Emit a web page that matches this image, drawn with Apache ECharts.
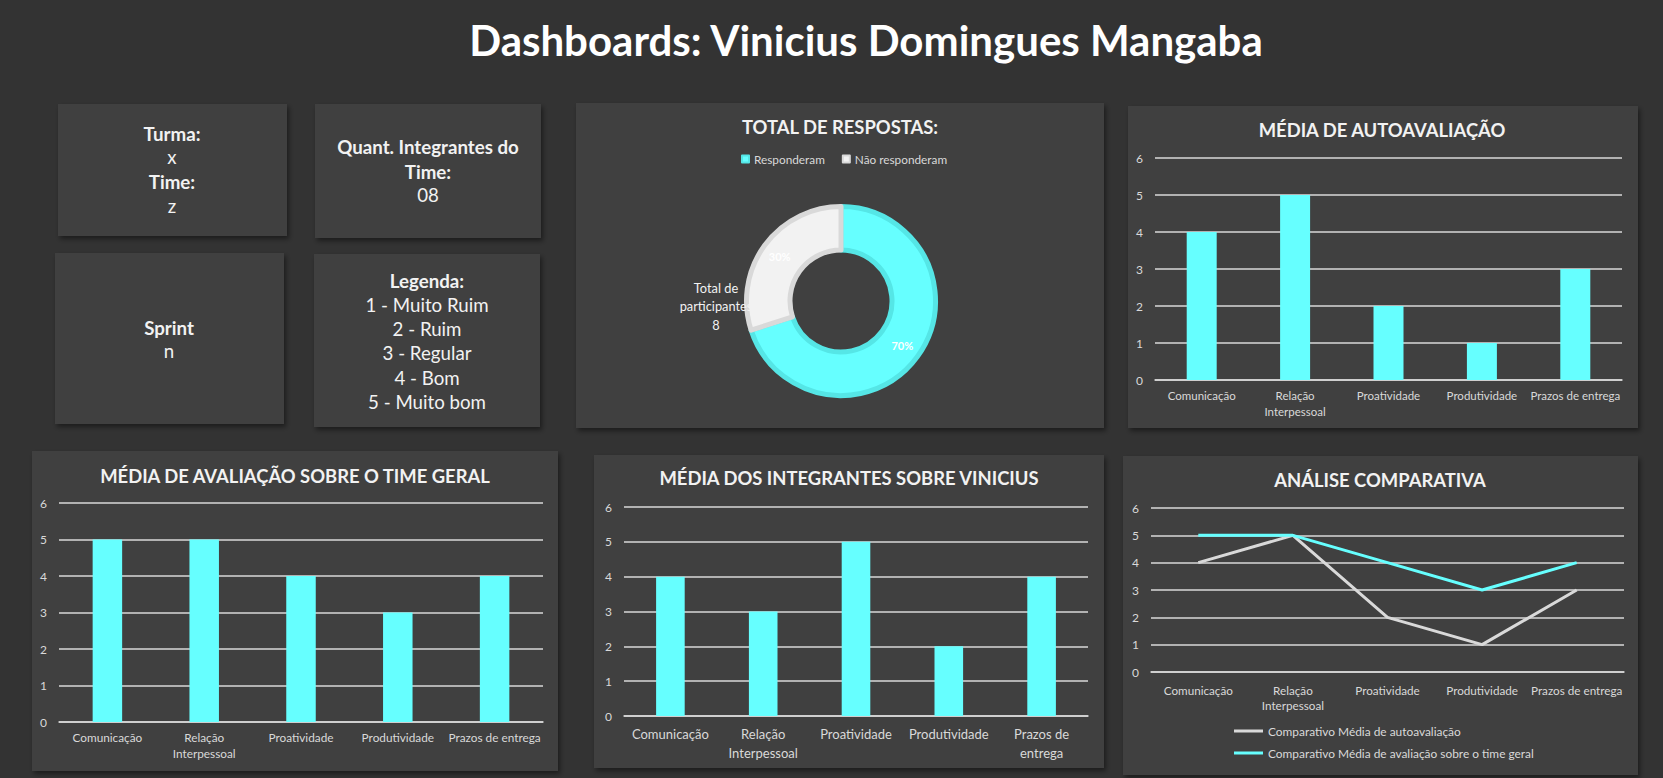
<!DOCTYPE html>
<html><head><meta charset="utf-8">
<script src="https://cdn.jsdelivr.net/npm/echarts@6/dist/echarts.min.js"></script>
<style>html,body{margin:0;padding:0;background:#333333;overflow:hidden}#c{width:1663px;height:778px;}</style>
</head><body><div id="c"></div>
<script>
// ---- data ----
const categories = ['Comunicação', 'Relação Interpessoal', 'Proatividade', 'Produtividade', 'Prazos de entrega'];
const autoavaliacao = [4, 5, 2, 1, 3];
const timeGeral = [5, 5, 4, 3, 4];
const integrantesSobreVinicius = [4, 3, 5, 2, 4];
const respostasNomes = ['Responderam', 'Não responderam'];
const respostasValores = [70, 30];
const totalParticipantes = 8;
const yTicks = [0, 1, 2, 3, 4, 5, 6];
const turma = 'x';
const time = 'z';
const quantIntegrantes = '08';
const sprint = 'n';
const legendaEscala = ['1 - Muito Ruim', '2 - Ruim', '3 - Regular', '4 - Bom', '5 - Muito bom'];
const comparativoNomes = ['Comparativo Média de autoavaliação', 'Comparativo Média de avaliação sobre o time geral'];

// ---- style ----
const FONT = 'Lato, "Open Sans", "Noto Sans", sans-serif';
const GRIDC = '#d9d9d9';
const CYAN = '#66ffff';
const PANEL = '#404040';
const TITLE_FS = 18.4;
const BOX_FS = 18.7;

function wrap(v, wrapPrazos) {
  if (v === 'Relação Interpessoal') return 'Relação\nInterpessoal';
  if (wrapPrazos && v === 'Prazos de entrega') return 'Prazos de\nentrega';
  return v;
}
function catAxis(gi, fs, lh, margin, wp) {
  return {
    type: 'category', gridIndex: gi, data: categories,
    axisLine: { lineStyle: { color: GRIDC, width: 1.5 } },
    axisTick: { show: false },
    axisLabel: { interval: 0, color: '#d9d9d9', fontFamily: FONT, fontSize: fs, lineHeight: lh, margin: margin,
      formatter: v => wrap(v, wp) }
  };
}
function valAxis(gi) {
  return {
    type: 'value', gridIndex: gi, min: yTicks[0], max: yTicks[yTicks.length - 1], interval: yTicks[1] - yTicks[0],
    axisLine: { show: false }, axisTick: { show: false },
    splitLine: { lineStyle: { color: GRIDC, width: 1.5 } },
    axisLabel: { color: '#d9d9d9', fontFamily: FONT, fontSize: 12, margin: 12 }
  };
}
function panel(x, y, w, h) {
  return { type: 'rect', z: 0, shape: { x, y, width: w, height: h },
    style: { fill: PANEL, shadowBlur: 5, shadowOffsetX: 2, shadowOffsetY: 3, shadowColor: 'rgba(0,0,0,0.45)' } };
}
function txt(x, y, s, fs, bold, color) {
  return { type: 'text', z: 50, x, y, style: { text: s, fill: color || '#f2f2f2', font: (bold ? 'bold ' : '') + fs + 'px ' + FONT,
    textAlign: 'center', textVerticalAlign: 'middle' } };
}

const graphic = [
  panel(58, 104, 229, 132), panel(315, 104, 226, 134), panel(55, 253, 229, 171), panel(314, 254, 226, 173),
  panel(576, 103, 528, 325), panel(1128, 106, 510, 322),
  panel(32, 451, 526, 320), panel(594, 455, 510, 313), panel(1123, 456, 515, 319),
  txt(866, 40, 'Dashboards: Vinicius Domingues Mangaba', 42, true, '#ffffff'),
  txt(172, 134, 'Turma:', BOX_FS, true), txt(172, 157, turma, BOX_FS, false),
  txt(172, 182, 'Time:', BOX_FS, true), txt(172, 206, time, BOX_FS, false),
  txt(428, 147, 'Quant. Integrantes do', BOX_FS, true), txt(428, 172, 'Time:', BOX_FS, true), txt(428, 195, quantIntegrantes, BOX_FS, false),
  txt(169, 328, 'Sprint', BOX_FS, true), txt(169, 351, sprint, BOX_FS, false),
  txt(427, 281, 'Legenda:', BOX_FS, true),
  ...legendaEscala.map((s, i) => txt(427, 305 + i * 24.2, s, BOX_FS, false)),
  txt(840, 127, 'TOTAL DE RESPOSTAS:', TITLE_FS, true),
  txt(1382, 130, 'MÉDIA DE AUTOAVALIAÇÃO', TITLE_FS, true),
  txt(295, 476, 'MÉDIA DE AVALIAÇÃO SOBRE O TIME GERAL', TITLE_FS, true),
  txt(849, 478, 'MÉDIA DOS INTEGRANTES SOBRE VINICIUS', TITLE_FS, true),
  txt(1380, 480, 'ANÁLISE COMPARATIVA', TITLE_FS, true),
  { type: 'text', z: 60, x: 716, y: 306, style: { text: 'Total de\nparticipantes\n' + totalParticipantes, fill: '#f2f2f2',
    font: '12.8px ' + FONT, textAlign: 'center', textVerticalAlign: 'middle', lineHeight: 18.5 } }
];

const option = {
  backgroundColor: '#333333',
  animation: false,
  textStyle: { fontFamily: FONT },
  graphic: graphic,
  grid: [
    { left: 1155, top: 158, width: 467, height: 222 },
    { left: 59, top: 503, width: 484, height: 219 },
    { left: 624, top: 507, width: 464, height: 209 },
    { left: 1151, top: 508, width: 473, height: 164 }
  ],
  xAxis: [
    catAxis(0, 11.5, 16, 7, false),
    catAxis(1, 11.8, 16, 7, false),
    catAxis(2, 13, 19, 8, true),
    catAxis(3, 11.7, 15, 10, false)
  ],
  yAxis: [valAxis(0), valAxis(1), valAxis(2), valAxis(3)],
  legend: [
    { data: respostasNomes, left: 736, top: 148, icon: 'rect', itemWidth: 7, itemHeight: 7, itemGap: 17,
      textStyle: { color: '#d9d9d9', fontSize: 11.8, fontFamily: FONT }, selectedMode: false },
    { data: comparativoNomes, left: 1229, top: 720, orient: 'vertical', icon: 'rect', itemWidth: 29, itemHeight: 3, itemGap: 10,
      textStyle: { color: '#d9d9d9', fontSize: 11.9, fontFamily: FONT }, selectedMode: false }
  ],
  series: [
    { type: 'bar', xAxisIndex: 0, yAxisIndex: 0, data: autoavaliacao, barWidth: 30, itemStyle: { color: CYAN }, silent: true },
    { type: 'bar', xAxisIndex: 1, yAxisIndex: 1, data: timeGeral, barWidth: 29.5, itemStyle: { color: CYAN }, silent: true },
    { type: 'bar', xAxisIndex: 2, yAxisIndex: 2, data: integrantesSobreVinicius, barWidth: 28.6, itemStyle: { color: CYAN }, silent: true },
    { type: 'line', name: comparativoNomes[0], xAxisIndex: 3, yAxisIndex: 3, data: autoavaliacao, symbol: 'none',
      lineStyle: { color: '#d9d9d9', width: 3 }, itemStyle: { color: '#d9d9d9' }, silent: true },
    { type: 'line', name: comparativoNomes[1], xAxisIndex: 3, yAxisIndex: 3, data: timeGeral, symbol: 'none',
      lineStyle: { color: CYAN, width: 3 }, itemStyle: { color: CYAN }, silent: true },
    { type: 'pie', center: [841, 301], radius: [51, 94.5], startAngle: 90, clockwise: true, silent: true,
      emphasis: { disabled: true },
      data: respostasNomes.map((n, i) => ({ name: n, value: respostasValores[i],
        itemStyle: { color: i ? '#f2f2f2' : CYAN, borderColor: i ? '#d9d9d9' : '#55e6e6', borderWidth: 5 } })),
      label: { show: true, position: 'inside', formatter: '{d}%', color: '#ffffff', fontSize: 11, fontWeight: 'bold', fontFamily: FONT },
      labelLine: { show: false } }
  ]
};

const chart = echarts.init(document.getElementById('c'), null, { renderer: 'svg', width: 1663, height: 778 });
chart.setOption(option);
</script>
</body></html>
